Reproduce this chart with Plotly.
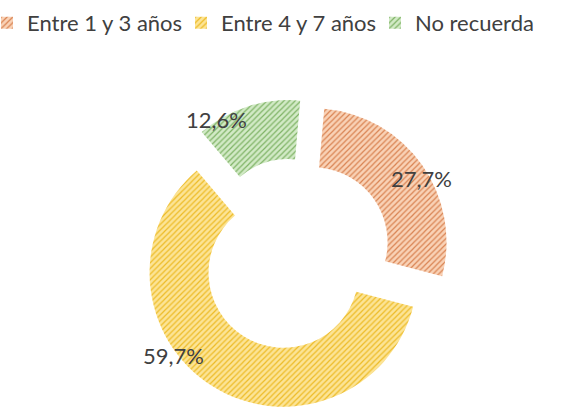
import plotly.graph_objects as go

categories = ["Entre 1 y 3 años", "Entre 4 y 7 años", "No recuerda"]
values = [27.7, 59.7, 12.6]
value_labels = [f"{v:.1f}".replace(".", ",") + "%" for v in values]
bg_colors = ["#F9D2B6", "#FCE496", "#D2EAC6"]
line_colors = ["#D98352", "#EDBB26", "#7FB366"]

W, H = 582, 410
pull = 0.16
R = 134
half = R * (1 + pull)
cx, cy = 295, H - half
fig = go.Figure(go.Pie(
    labels=categories, values=values, sort=False, direction="clockwise",
    rotation=5, hole=0.56, pull=[pull] * 3, textinfo="none",
    marker=dict(colors=bg_colors, line=dict(width=0),
                pattern=dict(shape="/", fgcolor=line_colors, bgcolor=bg_colors,
                             size=4, solidity=0.3, fillmode="replace")),
    domain=dict(x=[(cx - half) / W, (cx + half) / W],
                y=[0, 1 - (cy - half) / H]),
))

label_pos = [(421, 179), (173, 355), (216, 119)]
for txt, (px, py) in zip(value_labels, label_pos):
    fig.add_annotation(x=px / W, y=1 - py / H, xref="paper", yref="paper",
                       xanchor="center", yanchor="middle",
                       text=txt, showarrow=False,
                       font=dict(size=22, color="#404040", family="Lato"))

fig.update_layout(
    width=W, height=H, margin=dict(l=0, r=0, t=0, b=0, autoexpand=False),
    paper_bgcolor="white", plot_bgcolor="white",
    font=dict(family="Lato", color="#404040"),
    legend=dict(orientation="h", x=0, xanchor="left", y=0.944, yanchor="middle",
                font=dict(size=22, color="#404040"), entrywidth=162,
                indentation=-13, itemclick=False),
    showlegend=True,
)
fig.write_html("out.html", config={"displayModeBar": False},
               post_script="document.body.style.margin='0';")
